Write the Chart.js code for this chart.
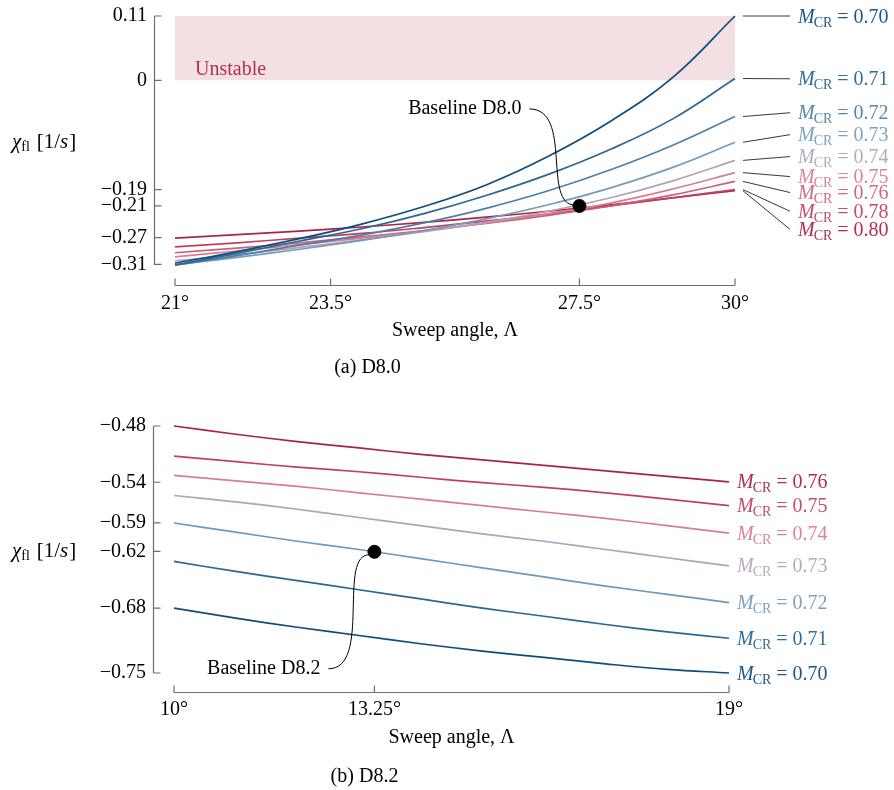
<!DOCTYPE html>
<html><head><meta charset="utf-8">
<script src="https://cdn.jsdelivr.net/npm/chart.js@4.4.0/dist/chart.umd.min.js"></script>
<style>
html,body{margin:0;padding:0;background:#fff;}
#wrap{position:relative;width:894px;height:790px;overflow:hidden;}
.c{position:absolute;left:0;width:894px;}
</style></head><body>
<div id="wrap">
<div class="c" style="top:0;height:392px"><canvas id="c1"></canvas></div>
<div class="c" style="top:392px;height:398px"><canvas id="c2"></canvas></div>
</div>
<script>
// ---------- Data: (a) D8.0 ----------
const sweepA = [21, 22, 23, 24, 25, 26, 27, 28, 29, 30];
const machA = ['0.70', '0.71', '0.72', '0.73', '0.74', '0.75', '0.76', '0.78', '0.80'];
const chiA_070 = [-0.313, -0.293, -0.271, -0.246, -0.216, -0.179, -0.130, -0.070, 0.005, 0.110];
const chiA_071 = [-0.316, -0.296, -0.275, -0.254, -0.228, -0.197, -0.161, -0.118, -0.066, 0.003];
const chiA_072 = [-0.316, -0.300, -0.282, -0.265, -0.244, -0.219, -0.189, -0.153, -0.111, -0.062];
const chiA_073 = [-0.316, -0.303, -0.289, -0.274, -0.257, -0.237, -0.213, -0.184, -0.149, -0.106];
const chiA_074 = [-0.309, -0.298, -0.286, -0.273, -0.259, -0.243, -0.224, -0.201, -0.172, -0.137];
const chiA_075 = [-0.302, -0.292, -0.281, -0.270, -0.258, -0.244, -0.228, -0.210, -0.186, -0.158];
const chiA_076 = [-0.295, -0.287, -0.278, -0.268, -0.257, -0.245, -0.231, -0.215, -0.196, -0.173];
const chiA_078 = [-0.285, -0.278, -0.270, -0.262, -0.252, -0.241, -0.229, -0.215, -0.201, -0.187];
const chiA_080 = [-0.270, -0.264, -0.258, -0.251, -0.243, -0.234, -0.224, -0.213, -0.201, -0.189];
const baselineA = [27.5, -0.215];
const xTicksA = [21, 23.5, 27.5, 30];
const yTicksA = [0.11, 0, -0.187, -0.215, -0.269, -0.315];
const yTickLabelsA = ['0.11', '0', '\u22120.19', '\u22120.21', '\u22120.27', '\u22120.31'];

// ---------- Data: (b) D8.2 ----------
const sweepB = [10, 11, 12, 13, 14, 15, 16, 17, 18, 19];
const machB = ['0.76', '0.75', '0.74', '0.73', '0.72', '0.71', '0.70'];
const chiB_076 = [-0.480, -0.489, -0.497, -0.504, -0.511, -0.517, -0.523, -0.529, -0.535, -0.541];
const chiB_075 = [-0.513, -0.519, -0.525, -0.530, -0.536, -0.542, -0.547, -0.553, -0.560, -0.567];
const chiB_074 = [-0.534, -0.540, -0.546, -0.553, -0.560, -0.567, -0.574, -0.581, -0.589, -0.597];
const chiB_073 = [-0.556, -0.563, -0.571, -0.580, -0.589, -0.598, -0.606, -0.615, -0.624, -0.633];
const chiB_072 = [-0.586, -0.596, -0.606, -0.615, -0.625, -0.635, -0.645, -0.655, -0.664, -0.673];
const chiB_071 = [-0.628, -0.639, -0.649, -0.659, -0.669, -0.679, -0.688, -0.697, -0.705, -0.712];
const chiB_070 = [-0.679, -0.690, -0.700, -0.709, -0.718, -0.726, -0.733, -0.740, -0.746, -0.750];
const baselineB = [13.25, -0.6175];
const xTicksB = [10, 13.25, 19];
const yTicksB = [-0.48, -0.5415, -0.586, -0.617, -0.679, -0.75];
const yTickLabelsB = ['\u22120.48', '\u22120.54', '\u22120.59', '\u22120.62', '\u22120.68', '\u22120.75'];

// ---------- Styles / layout ----------
const FONT = '"Liberation Serif","Times New Roman",serif';
const colorsA = ['#0f4c7d', '#2a6795', '#4a80a9', '#739bbb', '#b3a1b7', '#d97d92', '#cc6179', '#c0415f', '#ac2444'];
const colorsB = ['#ac2444', '#c0415f', '#d97d92', '#b3a1b7', '#6f99bb', '#2a6795', '#0f4c7d'];
const labelColorsA = ['#1b5886', '#326e9a', '#5287ae', '#7ea2c0', '#b9a9bd', '#d98497', '#cf6a80', '#c44d69', '#b1304f'];
const labelColorsB = ['#b1304f', '#c44d69', '#d98497', '#b9a9bd', '#7ea2c0', '#326e9a', '#1b5886'];
// label anchor heights (value units) for the leader lines in panel (a)
const labelAnchorsA = [0.110, 0.0026, -0.0555, -0.093, -0.1305, -0.1647, -0.192, -0.224, -0.255];

Chart.defaults.font.family = FONT;
Chart.defaults.font.size = 20;
Chart.defaults.color = '#000';

function drawMLabel(ctx, x, y, val, color) {
  ctx.save();
  ctx.fillStyle = color;
  ctx.textBaseline = 'alphabetic';
  ctx.textAlign = 'left';
  const base = y + 6.5;
  ctx.font = 'italic 20px ' + FONT;
  ctx.fillText('M', x, base);
  let cx = x + ctx.measureText('M').width - 1;
  ctx.font = '14px ' + FONT;
  ctx.fillText('CR', cx, base + 4);
  cx += ctx.measureText('CR').width;
  ctx.font = '20px ' + FONT;
  ctx.fillText(' = ' + val, cx, base);
  ctx.restore();
}

function drawYTitle(ctx, x, y) {
  ctx.save();
  ctx.fillStyle = '#000';
  ctx.textAlign = 'left';
  ctx.textBaseline = 'alphabetic';
  const base = y + 7;
  ctx.font = 'italic 21px ' + FONT;
  ctx.fillText('\u03C7', x, base);
  let cx = x + ctx.measureText('\u03C7').width;
  ctx.font = '14px ' + FONT;
  ctx.fillText('fl', cx, base + 3);
  cx += ctx.measureText('fl').width + 7;
  ctx.font = '21px ' + FONT;
  ctx.fillText('[1/', cx, base);
  cx += ctx.measureText('[1/').width;
  ctx.font = 'italic 21px ' + FONT;
  ctx.fillText('s', cx, base);
  cx += ctx.measureText('s').width + 1;
  ctx.font = '21px ' + FONT;
  ctx.fillText(']', cx, base);
  ctx.restore();
}

const deco = {
  id: 'deco',
  beforeDatasetsDraw(chart, args, o) {
    const {ctx, scales: {x, y}} = chart;
    if (o.band) {
      const x0 = x.getPixelForValue(x.min), x1 = x.getPixelForValue(x.max);
      const y0 = y.getPixelForValue(o.band[1]), y1 = y.getPixelForValue(o.band[0]);
      ctx.save();
      ctx.fillStyle = '#f3e0e3';
      ctx.fillRect(x0, y0, x1 - x0, y1 - y0);
      ctx.fillStyle = '#b3304f';
      ctx.font = '20px ' + FONT;
      ctx.textAlign = 'left';
      ctx.textBaseline = 'middle';
      ctx.fillText(o.bandText, x0 + 20, y1 - 11);
      ctx.restore();
    }
  },
  afterDraw(chart, args, o) {
    const {ctx, chartArea: a, scales: {x, y}} = chart;
    ctx.save();
    // detached axes
    ctx.strokeStyle = '#6e6e6e';
    ctx.lineWidth = 1.2;
    const ax = a.left - 20.5, ay = a.bottom + o.xGap + 0.5;
    ctx.beginPath();
    ctx.moveTo(ax, y.getPixelForValue(y.max));
    ctx.lineTo(ax, y.getPixelForValue(y.min));
    y.ticks.forEach(t => { const p = y.getPixelForValue(t.value); ctx.moveTo(ax, p); ctx.lineTo(ax + 7, p); });
    ctx.moveTo(x.getPixelForValue(x.min), ay);
    ctx.lineTo(x.getPixelForValue(x.max), ay);
    x.ticks.forEach(t => { const p = x.getPixelForValue(t.value); ctx.moveTo(p, ay); ctx.lineTo(p, ay - 7); });
    ctx.stroke();

    // series labels
    const xr = x.getPixelForValue(x.max);
    o.series.forEach((s, i) => {
      const yEnd = y.getPixelForValue(s[s.length - 1]);
      if (o.anchors) {
        const yl = y.getPixelForValue(o.anchors[i]);
        ctx.strokeStyle = '#222';
        ctx.lineWidth = 0.9;
        ctx.beginPath();
        ctx.moveTo(xr + 8, yEnd);
        ctx.lineTo(xr + 55, yl);
        ctx.stroke();
        drawMLabel(ctx, xr + 63, yl, o.machs[i], o.labelColors[i]);
      } else {
        drawMLabel(ctx, xr + 8, yEnd, o.machs[i], o.labelColors[i]);
      }
    });

    // baseline annotation
    const px = x.getPixelForValue(o.base[0]), py = y.getPixelForValue(o.base[1]);
    const tx = px + o.baseText[0], ty = py + o.baseText[1];
    ctx.font = '20px ' + FONT;
    ctx.fillStyle = '#000';
    ctx.textAlign = 'right';
    ctx.textBaseline = 'middle';
    ctx.fillText(o.baseLabel, tx, ty);
    ctx.strokeStyle = '#000';
    ctx.lineWidth = 1;
    ctx.beginPath();
    ctx.moveTo(tx + 8, ty);
    ctx.bezierCurveTo(tx + 52, ty, px - 38, py, px - 4, py + (ty > py ? 3 : -1));
    ctx.stroke();

    // y-axis title
    drawYTitle(ctx, 12, (a.top + a.bottom) / 2);
    ctx.restore();
  }
};

function makeChart(id, c) {
  const datasets = c.series.map((s, i) => ({
    type: 'line',
    data: c.sweep.map((v, j) => ({x: v, y: s[j]})),
    borderColor: c.colors[i],
    borderWidth: 1.7,
    pointRadius: 0,
    tension: 0.4,
    fill: false,
    clip: false,
    order: 1
  }));
  datasets.push({
    type: 'scatter',
    data: [{x: c.base[0], y: c.base[1]}],
    pointRadius: 6.5,
    pointBackgroundColor: '#000',
    pointBorderColor: '#000',
    clip: false,
    order: 0
  });
  return new Chart(document.getElementById(id), {
    type: 'line',
    data: {datasets},
    options: {
      responsive: true,
      maintainAspectRatio: false,
      devicePixelRatio: 1,
      animation: false,
      events: [],
      layout: {padding: {top: c.padTop, right: c.padRight, left: 0, bottom: 0}},
      scales: {
        x: {
          type: 'linear', min: c.sweep[0], max: c.sweep[c.sweep.length - 1],
          afterBuildTicks: s => { s.ticks = c.xTicks.map(v => ({value: v})); },
          afterFit: s => { s.height = c.xHeight; s.paddingLeft = 0; s.paddingRight = 0; },
          grid: {display: false, drawTicks: false},
          border: {display: false},
          ticks: {padding: c.xTickPad, maxRotation: 0, autoSkip: false, callback: v => v + '\u00B0', font: {size: 20}},
          title: {display: true, text: 'Sweep angle, \u039B', font: {size: 20}, padding: {top: 0, bottom: c.xTitlePad}}
        },
        y: {
          type: 'linear', min: c.yMin, max: c.yMax,
          afterBuildTicks: s => { s.ticks = c.yTicks.slice().sort((p, q) => p - q).map(v => ({value: v})); },
          afterFit: s => { s.width = c.left; s.paddingTop = 0; s.paddingBottom = 0; },
          grid: {display: false, drawTicks: false},
          border: {display: false},
          ticks: {padding: 28, autoSkip: false, callback: v => c.yTickLabels[c.yTicks.indexOf(v)], font: {size: 20}}
        }
      },
      plugins: {
        legend: {display: false},
        tooltip: {enabled: false},
        title: {display: true, position: 'bottom', text: c.caption, font: {size: 20, weight: 'normal'}, padding: {top: 0, bottom: c.capPad}},
        deco: {
          band: c.band, bandText: 'Unstable', xGap: c.xGap,
          series: c.series, machs: c.machs, labelColors: c.labelColors, anchors: c.anchors,
          base: c.base, baseText: c.baseText, baseLabel: c.baseLabel
        }
      }
    },
    plugins: [deco]
  });
}

makeChart('c1', {
  sweep: sweepA, machs: machA,
  series: [chiA_070, chiA_071, chiA_072, chiA_073, chiA_074, chiA_075, chiA_076, chiA_078, chiA_080],
  colors: colorsA, labelColors: labelColorsA, anchors: labelAnchorsA,
  base: baselineA, baseText: [-58, -97], baseLabel: 'Baseline D8.0',
  xTicks: xTicksA, yTicks: yTicksA, yTickLabels: yTickLabelsA,
  yMin: -0.316, yMax: 0.11, band: [0, 0.11],
  padTop: 16, padRight: 159, left: 175, xHeight: 91, xTickPad: 27, xTitlePad: 13, capPad: 12, xGap: 20,
  caption: '(a) D8.0'
});

makeChart('c2', {
  sweep: sweepB, machs: machB,
  series: [chiB_076, chiB_075, chiB_074, chiB_073, chiB_072, chiB_071, chiB_070],
  colors: colorsB, labelColors: labelColorsB, anchors: null,
  base: baselineB, baseText: [-54, 117], baseLabel: 'Baseline D8.2',
  xTicks: xTicksB, yTicks: yTicksB, yTickLabels: yTickLabelsB,
  yMin: -0.75, yMax: -0.48, band: null,
  padTop: 34, padRight: 165, left: 174, xHeight: 92, xTickPad: 25, xTitlePad: 15, capPad: 1, xGap: 19,
  caption: '(b) D8.2'
});
</script>
</body></html>
